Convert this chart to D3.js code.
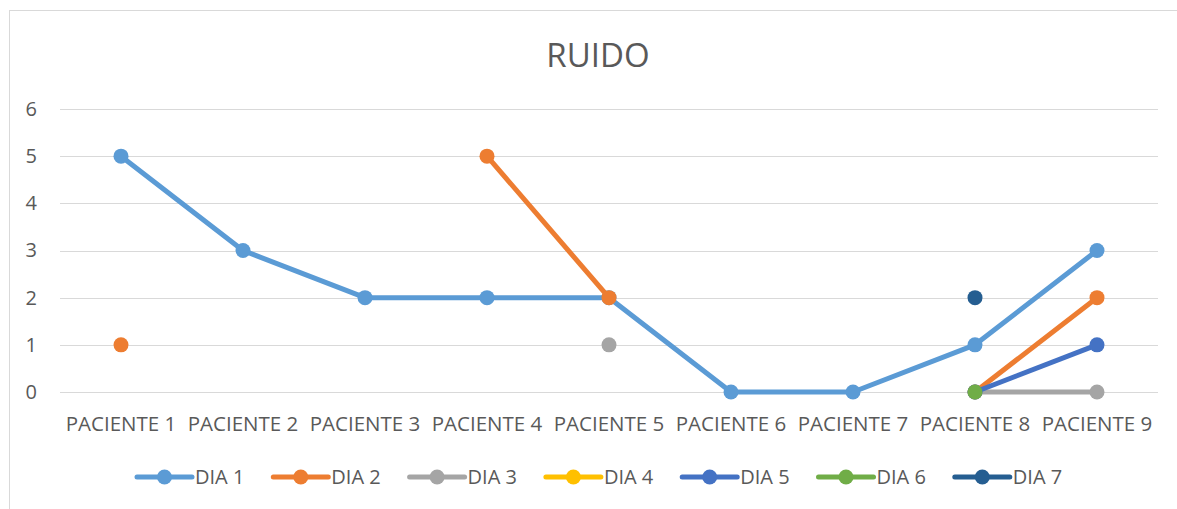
<!DOCTYPE html>
<html>
<head>
<meta charset="utf-8">
<script src="https://cdn.jsdelivr.net/npm/d3@7"></script>
<style>
  body { margin: 0; background: #fff; }
  svg text { font-family: "Open Sans", "Liberation Sans", sans-serif; fill: #595959; }
</style>
</head>
<body>
<div id="chart"></div>
<script>
// 데이터
var categories = ["PACIENTE 1", "PACIENTE 2", "PACIENTE 3", "PACIENTE 4", "PACIENTE 5", "PACIENTE 6", "PACIENTE 7", "PACIENTE 8", "PACIENTE 9"];
var seriesNames = ["DIA 1", "DIA 2", "DIA 3", "DIA 4", "DIA 5", "DIA 6", "DIA 7"];
var dia1 = [5, 3, 2, 2, 2, 0, 0, 1, 3];
var dia2 = [1, null, null, 5, 2, null, null, 0, 2];
var dia3 = [null, null, null, null, 1, null, null, 0, 0];
var dia4 = [null, null, null, null, null, null, null, null, null];
var dia5 = [null, null, null, null, null, null, null, 0, 1];
var dia6 = [null, null, null, null, null, null, null, 0, null];
var dia7 = [null, null, null, null, null, null, null, 2, null];
var yTicks = [0, 1, 2, 3, 4, 5, 6];
var colors = ["#5B9BD5", "#ED7D31", "#A5A5A5", "#FFC000", "#4472C4", "#70AD47", "#255E91"];

var allSeries = [dia1, dia2, dia3, dia4, dia5, dia6, dia7];

var W = 1177, H = 509;
var margin = {top: 109, right: 19, bottom: 117, left: 60};
var width = W - margin.left - margin.right;
var height = H - margin.top - margin.bottom;

var root = d3.select("#chart").append("svg")
  .attr("width", W)
  .attr("height", H);

// 외곽 테두리
root.append("rect")
  .attr("x", 9.5).attr("y", 10.5)
  .attr("width", W + 20).attr("height", H + 20)
  .attr("fill", "none")
  .attr("stroke", "#D9D9D9")
  .attr("stroke-width", 1);

// 제목
root.append("text")
  .attr("x", 598).attr("y", 67)
  .attr("text-anchor", "middle")
  .attr("font-size", 33)
  .text("RUIDO");

var svg = root.append("g")
  .attr("transform", "translate(" + margin.left + "," + margin.top + ")");

var x = d3.scaleBand().domain(categories).range([0, width]);
var y = d3.scaleLinear().domain([0, 6]).range([height, 0]);

// 그리드
svg.append("g").selectAll("line")
  .data(yTicks)
  .enter().append("line")
    .attr("x1", 0).attr("x2", width)
    .attr("y1", function(d) { return Math.round(y(d)) + 0.5; })
    .attr("y2", function(d) { return Math.round(y(d)) + 0.5; })
    .attr("stroke", "#D9D9D9")
    .attr("stroke-width", 1);

// y축
var yAxis = svg.append("g")
  .call(d3.axisLeft(y).tickValues(yTicks).tickFormat(d3.format("d")).tickSize(0).tickPadding(23));
yAxis.select(".domain").remove();
yAxis.selectAll("text").attr("font-size", 20);

// x축
var xAxis = svg.append("g")
  .attr("transform", "translate(0," + height + ")")
  .call(d3.axisBottom(x).tickSize(0).tickPadding(24));
xAxis.select(".domain").remove();
xAxis.selectAll("text").attr("font-size", 20.5);
root.selectAll(".tick text").attr("fill", "#595959");

// 라인
var line = d3.line()
  .defined(function(d) { return d.value !== null; })
  .x(function(d) { return x(d.key) + x.bandwidth() / 2; })
  .y(function(d) { return y(d.value); });

allSeries.forEach(function(vals, i) {
  var pts = categories.map(function(c, k) { return {key: c, value: vals[k]}; });
  svg.append("path")
    .datum(pts)
    .attr("d", line)
    .attr("fill", "none")
    .attr("stroke", colors[i])
    .attr("stroke-width", 5)
    .attr("stroke-linejoin", "round");
  svg.append("g").selectAll("circle")
    .data(pts.filter(function(d) { return d.value !== null; }))
    .enter().append("circle")
      .attr("cx", function(d) { return x(d.key) + x.bandwidth() / 2; })
      .attr("cy", function(d) { return y(d.value); })
      .attr("r", 7.5)
      .attr("fill", colors[i]);
});

// 범례
var legend = root.append("g")
  .attr("transform", "translate(137,477)");
seriesNames.forEach(function(name, i) {
  var g = legend.append("g").attr("transform", "translate(" + (i * 136.3) + ",0)");
  g.append("line")
    .attr("x1", 0).attr("x2", 55)
    .attr("y1", 0).attr("y2", 0)
    .attr("stroke", colors[i])
    .attr("stroke-width", 5)
    .attr("stroke-linecap", "round");
  g.append("circle")
    .attr("cx", 27.5).attr("cy", 0).attr("r", 7.5)
    .attr("fill", colors[i]);
  g.append("text")
    .attr("x", 58).attr("y", 0)
    .attr("dy", "0.36em")
    .attr("font-size", 20)
    .text(name);
});
</script>
</body>
</html>
